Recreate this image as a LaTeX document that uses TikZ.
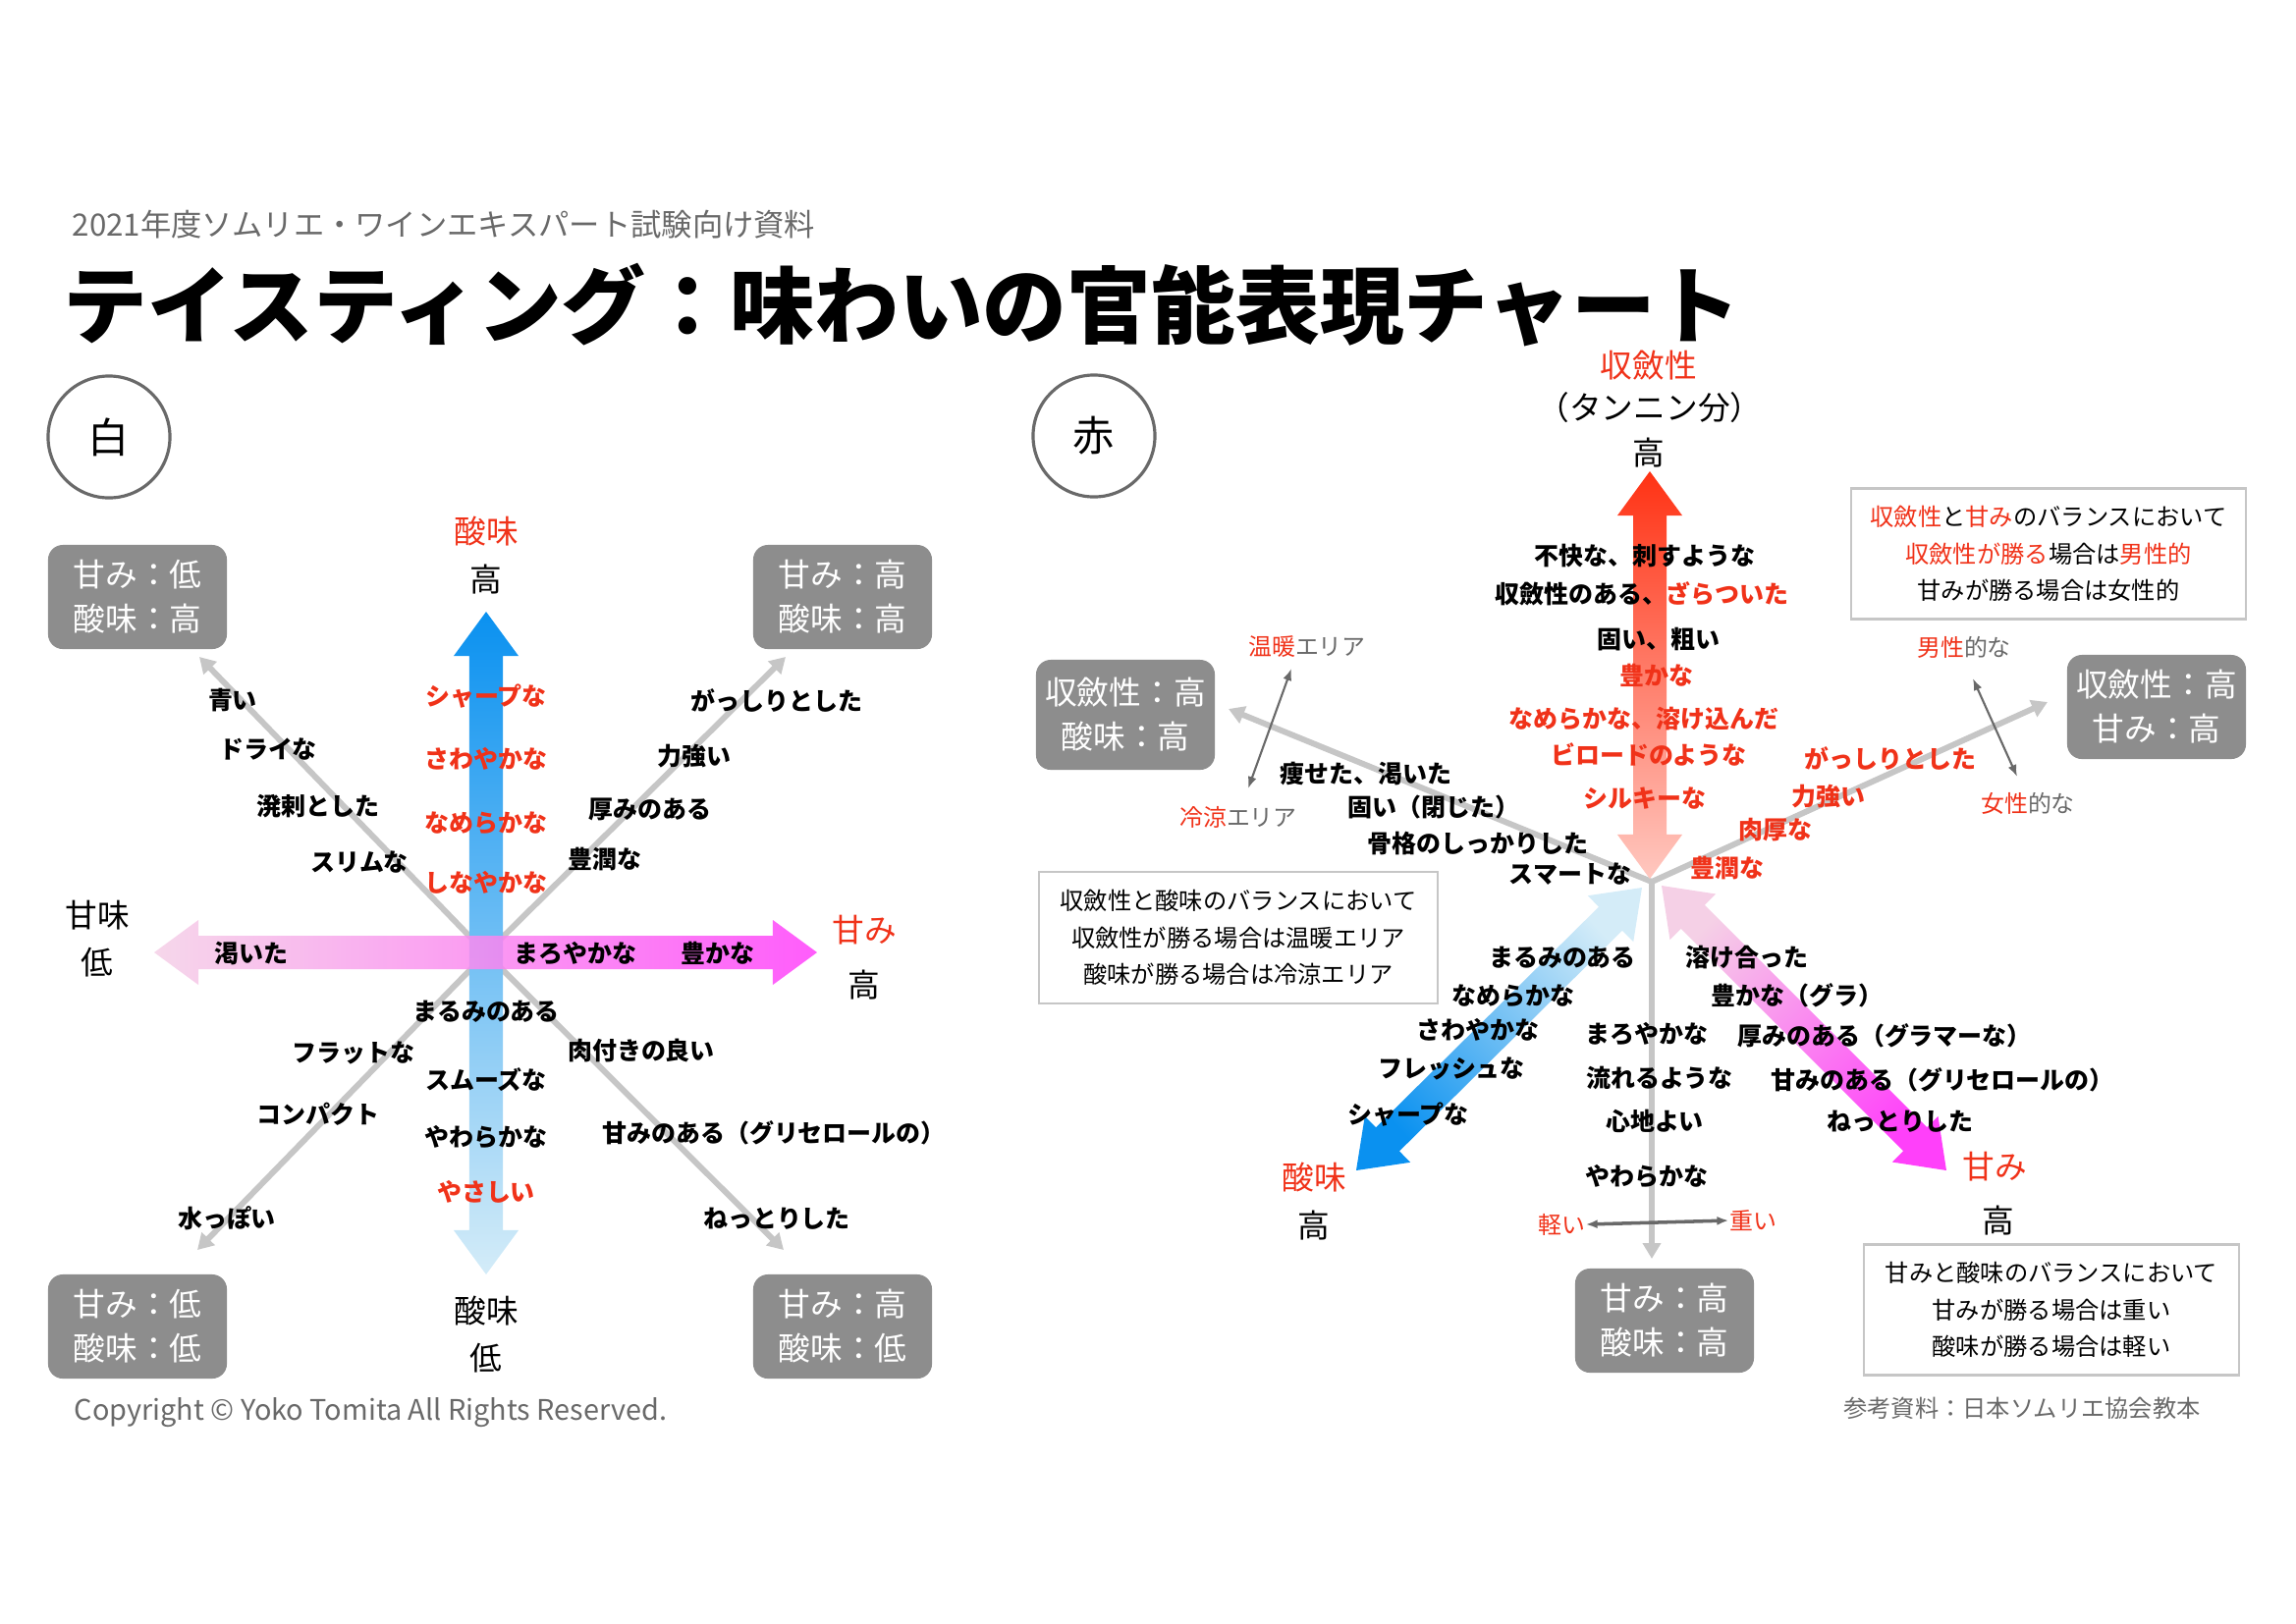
\documentclass[tikz,border=0pt]{standalone}
\usepackage{fontspec}
\setmainfont{Noto Sans CJK JP}
\usetikzlibrary{calc,arrows.meta}
\definecolor{vermilion}{RGB}{240, 50, 25}
\definecolor{azure}{RGB}{10, 145, 240}
\definecolor{iceblue}{RGB}{212, 236, 248}
\definecolor{blush}{RGB}{245, 208, 230}
\definecolor{orchidpink}{RGB}{255, 64, 250}
\definecolor{tannin}{RGB}{255, 50, 20}
\definecolor{salmonpink}{RGB}{255, 200, 192}
\definecolor{boxgray}{RGB}{141, 141, 141}
\definecolor{rulegray}{RGB}{198, 198, 198}
\definecolor{inkgray}{RGB}{105, 105, 105}

% wide double-headed arrow between two named coordinates
\newcommand{\fatarrow}[3]{%
  \shade[#3] (#1) -- ($(#1)!0.45cm!(#2)!0.33cm!90:(#2)$) -- ($(#1)!0.45cm!(#2)!0.17cm!90:(#2)$)
    -- ($(#2)!0.45cm!(#1)!0.17cm!-90:(#1)$) -- ($(#2)!0.45cm!(#1)!0.33cm!-90:(#1)$) -- (#2)
    -- ($(#2)!0.45cm!(#1)!0.33cm!90:(#1)$) -- ($(#2)!0.45cm!(#1)!0.17cm!90:(#1)$)
    -- ($(#1)!0.45cm!(#2)!0.17cm!-90:(#2)$) -- ($(#1)!0.45cm!(#2)!0.33cm!-90:(#2)$) -- cycle;}

\tikzset{
  word/.style={font=\bfseries\fontsize{7.1}{8.5}\selectfont, inner sep=0pt},
  hot/.style={word, text=vermilion},
  axislabel/.style={font=\fontsize{9.3}{11}\selectfont, inner sep=0pt},
  corner/.style={fill=boxgray, rounded corners=0.15cm, text=white, align=center,
                 minimum width=1.82cm, minimum height=1.06cm, inner sep=0pt,
                 font=\fontsize{9.3}{12.8}\selectfont},
  note/.style={draw=rulegray, line width=0.7pt, align=center, inner sep=0pt,
               font=\fontsize{6.9}{10.7}\selectfont},
  area/.style={font=\fontsize{6.8}{8}\selectfont, text=inkgray, inner sep=0pt},
  spoke/.style={rulegray, line width=1.7pt, -{Triangle[length=0.16cm, width=0.18cm]}},
  span/.style={inkgray, line width=0.6pt, {Latex[length=0.12cm]}-{Latex[length=0.12cm]}},
  badge/.style={circle, draw=inkgray, line width=0.9pt, minimum size=1.24cm, inner sep=0pt,
                font=\fontsize{12}{14}\selectfont}
}

\begin{document}
\begin{tikzpicture}[x=0.01cm, y=-0.01cm]
  \useasboundingbox (0,0) rectangle (2338,1653);
  % Heading
  \node[anchor=west, inner sep=0pt, text=inkgray, font=\fontsize{8.9}{10}\selectfont] (series) at (73,229)
       {2021年度ソムリエ・ワインエキスパート試験向け資料};
  \node[anchor=west, inner sep=0pt, font=\bfseries\fontsize{24.4}{29}\selectfont] (headline) at (64,311)
       {テイスティング：味わいの官能表現チャート};

  % ---------------- White ----------------
  \node[badge] (white) at (111,445) {白};
  \coordinate (wCtr)    at (495,971);
  \coordinate (wNW)     at (203,669);
  \coordinate (wNE)     at (800,669);
  \coordinate (wSW)     at (201,1273);
  \coordinate (wSE)     at (798,1273);
  \draw[spoke] (wCtr) -- (wNW);
  \draw[spoke] (wCtr) -- (wNE);
  \draw[spoke] (wCtr) -- (wSW);
  \draw[spoke] (wCtr) -- (wSE);
  % acidity and sweetness axes
  \coordinate (acidTop) at (495,623);
  \coordinate (acidBot) at (495,1298);
  \coordinate (sweetL)  at (157,970);
  \coordinate (sweetR)  at (832,970);
  \fatarrow{acidTop}{acidBot}{top color=azure, bottom color=iceblue}
  \fatarrow{sweetL}{sweetR}{left color=blush, right color=orchidpink, opacity=0.85}
  % corner boxes
  \node[corner] (wTL) at (140,608)  {甘み：低\\酸味：高};
  \node[corner] (wTR) at (858,608)  {甘み：高\\酸味：高};
  \node[corner] (wBL) at (140,1351) {甘み：低\\酸味：低};
  \node[corner] (wBR) at (858,1351) {甘み：高\\酸味：低};
  % axis labels
  \node[axislabel, text=vermilion] (wAcidHi)  at (495,541)  {酸味};
  \node[axislabel]                 (wAcidHi2) at (495,590)  {高};
  \node[axislabel]                 (wAcidLo)  at (495,1335) {酸味};
  \node[axislabel]                 (wAcidLo2) at (495,1383) {低};
  \node[axislabel]                 (wSweetLo) at (99,932)   {甘味};
  \node[axislabel]                 (wSweetLo2) at (99,980)  {低};
  \node[axislabel, text=vermilion] (wSweetHi) at (880,947)  {甘み};
  \node[axislabel]                 (wSweetHi2) at (880,1003) {高};
  % words
  \node[word] (wBlue)    at (237,713)  {青い};
  \node[word] (wDry)     at (273,763)  {ドライな};
  \node[word] (wLively)  at (324,821)  {溌剌とした};
  \node[word] (wSlim)    at (366,878)  {スリムな};
  \node[hot]  (wSharp)   at (495,709)  {シャープな};
  \node[hot]  (wFresh)   at (495,773)  {さわやかな};
  \node[hot]  (wSmooth)  at (495,838)  {なめらかな};
  \node[hot]  (wSupple)  at (495,899)  {しなやかな};
  \node[word] (wSturdy)  at (791,713)  {がっしりとした};
  \node[word] (wStrong)  at (707,770)  {力強い};
  \node[word] (wThick)   at (662,824)  {厚みのある};
  \node[word] (wRich)    at (616,875)  {豊潤な};
  \node[word] (wDried)   at (256,971)  {渇いた};
  \node[word] (wMellow)  at (586,971)  {まろやかな};
  \node[word] (wAmple)   at (731,971)  {豊かな};
  \node[word] (wRound)   at (495,1030) {まるみのある};
  \node[word] (wFlat)    at (360,1072) {フラットな};
  \node[word] (wFleshy)  at (653,1070) {肉付きの良い};
  \node[word] (wSmooth2) at (495,1100) {スムーズな};
  \node[word] (wCompact) at (324,1135) {コンパクト};
  \node[word] (wSoft)    at (495,1158) {やわらかな};
  \node[word] (wGlyc)    at (788,1154) {甘みのある（グリセロールの）};
  \node[hot]  (wGentle)  at (495,1214) {やさしい};
  \node[word] (wWatery)  at (231,1241) {水っぽい};
  \node[word] (wSticky)  at (791,1241) {ねっとりした};
  \node[anchor=west, inner sep=0pt, text=inkgray, font=\fontsize{8.2}{9}\selectfont] (credit) at (75,1439)
       {Copyright © Yoko Tomita All Rights Reserved.};

  % ---------------- Red ----------------
  \node[badge] (red) at (1114,444) {赤};
  \coordinate (rCtr)    at (1682,898);
  \coordinate (rNW)     at (1251,722);
  \coordinate (rNE)     at (2085,715);
  \coordinate (rS)      at (1682,1282);
  \draw[spoke] (rCtr) -- (rNW);
  \draw[spoke] (rCtr) -- (rNE);
  \draw[spoke] (rCtr) -- (rS);
  % tannin, acidity and sweetness axes
  \coordinate (tanTop)  at (1680,480);
  \coordinate (tanBot)  at (1680,895);
  \coordinate (acidIn)  at (1672,904);
  \coordinate (acidOut) at (1381,1192);
  \coordinate (sugIn)   at (1692,902);
  \coordinate (sugOut)  at (1982,1192);
  \fatarrow{tanTop}{tanBot}{top color=tannin, bottom color=salmonpink}
  \fatarrow{acidIn}{acidOut}{top color=azure, bottom color=iceblue, shading angle=134}
  \fatarrow{sugIn}{sugOut}{top color=orchidpink, bottom color=blush, shading angle=225}
  % corner boxes
  \node[corner, minimum height=1.12cm] (rW) at (1146,728)  {収斂性：高\\酸味：高};
  \node[corner]                        (rE) at (2196,720)  {収斂性：高\\甘み：高};
  \node[corner]                        (rB) at (1695,1345) {甘み：高\\酸味：高};
  % axis labels
  \node[axislabel, text=vermilion] (rTan)    at (1679,372)  {収斂性};
  \node[axislabel]                 (rTan2)   at (1680,415)  {（タンニン分）};
  \node[axislabel]                 (rTan3)   at (1679,461)  {高};
  \node[axislabel, text=vermilion] (rAcid)   at (1338,1199) {酸味};
  \node[axislabel]                 (rAcid2)  at (1338,1248) {高};
  \node[axislabel, text=vermilion] (rSweet)  at (2031,1188) {甘み};
  \node[axislabel]                 (rSweet2) at (2035,1243) {高};
  % balance notes
  \node[note, minimum width=4.02cm, minimum height=1.33cm] (noteMale) at (2086,564)
       {\textcolor{vermilion}{収斂性}と\textcolor{vermilion}{甘み}のバランスにおいて\\
        \textcolor{vermilion}{収斂性が勝る}場合は\textcolor{vermilion}{男性的}\\
        甘みが勝る場合は女性的};
  \node[note, minimum width=4.06cm, minimum height=1.34cm] (noteWarm) at (1261,955)
       {収斂性と酸味のバランスにおいて\\収斂性が勝る場合は温暖エリア\\酸味が勝る場合は冷涼エリア};
  \node[note, minimum width=3.82cm, minimum height=1.33cm] (noteBody) at (2089,1334)
       {甘みと酸味のバランスにおいて\\甘みが勝る場合は重い\\酸味が勝る場合は軽い};
  % small scales
  \node[area] (warm)   at (1331,659) {\textcolor{vermilion}{温暖}エリア};
  \node[area] (cool)   at (1261,832) {\textcolor{vermilion}{冷涼}エリア};
  \node[area] (male)   at (2000,659) {\textcolor{vermilion}{男性}的な};
  \node[area] (female) at (2065,818) {\textcolor{vermilion}{女性}的な};
  \node[area, text=vermilion] (light) at (1590,1247) {軽い};
  \node[area, text=vermilion] (heavy) at (1785,1243) {重い};
  \draw[span] (1315,681) -- (1271,803);
  \draw[span] (2009,691) -- (2054,791);
  \draw[span, line width=1pt] (light.east) -- (heavy.west);
  % words
  \node[word] (rHarsh)   at (1675,566) {不快な、刺すような};
  \node[word] (rRough)   at (1672,605) {収斂性のある、\textcolor{vermilion}{ざらついた}};
  \node[word] (rHard)    at (1689,651) {固い、粗い};
  \node[hot]  (rAmple)   at (1687,688) {豊かな};
  \node[hot]  (rMelted)  at (1674,732) {なめらかな、溶け込んだ};
  \node[hot]  (rVelvet)  at (1679,768) {ビロードのような};
  \node[hot]  (rSilky)   at (1675,813) {シルキーな};
  \node[word] (rLean)    at (1391,788) {痩せた、渇いた};
  \node[word] (rClosed)  at (1460,822) {固い（閉じた）};
  \node[word] (rFrame)   at (1505,859) {骨格のしっかりした};
  \node[word] (rSmart)   at (1599,890) {スマートな};
  \node[hot]  (rSturdy)  at (1925,772) {がっしりとした};
  \node[hot]  (rStrong)  at (1862,811) {力強い};
  \node[hot]  (rMeaty)   at (1808,845) {肉厚な};
  \node[hot]  (rRich)    at (1759,884) {豊潤な};
  \node[word] (rRound)   at (1591,975)  {まるみのある};
  \node[word] (rSmooth)  at (1541,1014) {なめらかな};
  \node[word] (rFresh)   at (1505,1049) {さわやかな};
  \node[word] (rFresh2)  at (1478,1088) {フレッシュな};
  \node[word] (rSharp)   at (1434,1135) {シャープな};
  \node[word] (rMellow)  at (1677,1053) {まろやかな};
  \node[word] (rFlowing) at (1690,1098) {流れるような};
  \node[word] (rEasy)    at (1685,1142) {心地よい};
  \node[word] (rSoft)    at (1677,1198) {やわらかな};
  \node[word] (rBlended) at (1779,975)  {溶け合った};
  \node[word] (rGras)    at (1830,1014) {豊かな（グラ）};
  \node[word] (rGlamour) at (1919,1055) {厚みのある（グラマーな）};
  \node[word] (rGlyc)    at (1978,1100) {甘みのある（グリセロールの）};
  \node[word] (rSticky)  at (1935,1142) {ねっとりした};
  \node[inner sep=0pt, text=inkgray, font=\fontsize{6.9}{8}\selectfont] (source) at (2059,1434)
       {参考資料：日本ソムリエ協会教本};
\end{tikzpicture}
\end{document}
